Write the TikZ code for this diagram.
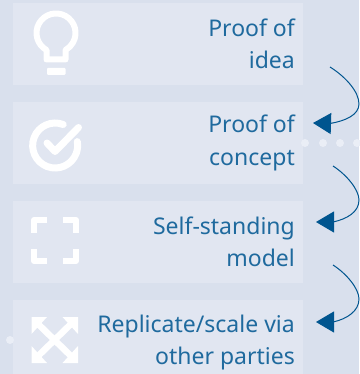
\documentclass[tikz,border=0pt]{standalone}
\usepackage{fontspec}
\setmainfont{Noto Sans}
\usetikzlibrary{arrows.meta}
\definecolor{bgblue}{HTML}{D9E0ED}
\definecolor{boxblue}{HTML}{E1E6F1}
\definecolor{txtblue}{HTML}{1F6A9E}
\definecolor{arrblue}{HTML}{00558F}
\definecolor{dotblue}{HTML}{EAEEF6}
\tikzset{
  panel/.style={fill=boxblue,draw=none,minimum width=290pt,inner sep=0pt,anchor=north west},
  label/.style={anchor=base east,align=right,inner sep=0pt,text=txtblue,font=\fontsize{23}{32}\selectfont},
  linkcurve/.style={draw=arrblue,line width=1pt,-{Triangle[length=18pt,width=21pt,fill=arrblue]}},
  icon/.style={draw=white,line width=6pt},
  dotmark/.style={fill=dotblue,draw=none,circle,minimum size=8pt,inner sep=0pt}
}
\begin{document}
\begin{tikzpicture}[x=1pt,y=-1pt]
\fill[bgblue] (0,0) rectangle (359,374);
\useasboundingbox (0,0) rectangle (359,374);
\node[panel,minimum height=82pt] (p1) at (13,3) {};
\node[panel,minimum height=82pt] (p2) at (13,102) {};
\node[panel,minimum height=82pt] (p3) at (13,201) {};
\node[panel,minimum height=74pt] (p4) at (13,300) {};
% dots
\node[dotmark] (d1) at (305,143) {};
\node[dotmark] (d2) at (323,143) {};
\node[dotmark] (d3) at (340,143) {};
\node[dotmark] (d4) at (357,143) {};
\node[dotmark] (d5) at (10,340) {};
% labels
\node[label] (t1a) at (295,37) {Proof of};
\node[label] (t1b) at (295,69) {idea};
\node[label] (t2a) at (295,133) {Proof of};
\node[label] (t2b) at (295,165) {concept};
\node[label] (t3a) at (295,234) {Self-standing};
\node[label] (t3b) at (295,266) {model};
\node[label] (t4a) at (295,332) {Replicate/scale via};
\node[label] (t4b) at (295,364) {other parties};
% connectors
\coordinate (s1) at (330,67); \coordinate (e1) at (313,123);
\coordinate (s2) at (333,166); \coordinate (e2) at (316,222);
\coordinate (s3) at (333,265); \coordinate (e3) at (316,322);
\draw[linkcurve] (s1) .. controls (346,77) and (359,92) .. (359,104) .. controls (359,115) and (345,121) .. (330,123.5) -- (e1);
\draw[linkcurve] (s2) .. controls (347,175) and (359,190) .. (359,200) .. controls (359,212) and (347,219) .. (333,222) -- (e2);
\draw[linkcurve] (s3) .. controls (347,274) and (359,289) .. (359,299) .. controls (359,311) and (347,319) .. (333,322) -- (e3);
% bulb icon
\draw[icon,line join=round] (46.5,50) arc[start angle=240.8,end angle=-60.8,radius=19.5pt] -- (65.5,59.5) -- (46.5,59.5) -- cycle;
\fill[white,rounded corners=1pt] (47,68) rectangle (65.5,75);
% check icon
\draw[icon,line width=7pt,line cap=round] (63.2,124.5) arc[start angle=69,end angle=370,radius=22.5pt];
\draw[icon,line width=7pt,line cap=round,line join=round] (47,143) -- (55,151.5) -- (78.5,127.5);
% frame icon
\draw[icon,line join=round] (34,233) -- (34,220) -- (47,220);
\draw[icon,line join=round] (63,220) -- (76,220) -- (76,233);
\draw[icon,line join=round] (34,249) -- (34,261) -- (47,261);
\draw[icon,line join=round] (63,261) -- (76,261) -- (76,249);
% expand icon
\draw[icon,line width=6.5pt] (36,322) -- (73,358);
\draw[icon,line width=6.5pt] (73,322) -- (36,358);
\fill[white] (31.5,317) -- (47,317) -- (31.5,334) -- cycle;
\fill[white] (78,317) -- (62.5,317) -- (78,334) -- cycle;
\fill[white] (31.5,363) -- (47,363) -- (31.5,346) -- cycle;
\fill[white] (78,363) -- (62.5,363) -- (78,346) -- cycle;
\end{tikzpicture}
\end{document}
